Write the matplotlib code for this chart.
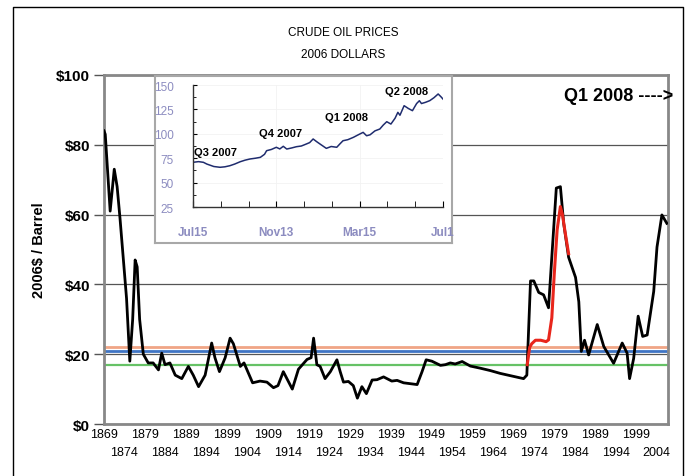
import numpy as np
import matplotlib
matplotlib.use("Agg")
import matplotlib.pyplot as plt
from matplotlib.lines import Line2D

plt.rcParams['font.family'] = ['Liberation Sans', 'DejaVu Sans']

# main series, 2006 dollars per barrel
years = [1869.0, 1869.3, 1870.5, 1871.5, 1872.2, 1872.9, 1874.5, 1875.3, 1876.0, 1876.6,
         1877.1, 1877.7, 1878.6, 1879.8, 1881.0, 1882.3, 1883.1, 1883.9, 1885.1, 1886.4,
         1888.0, 1889.6, 1890.8, 1892.1, 1893.7, 1895.3, 1896.1, 1897.2, 1898.6, 1899.8,
         1900.6, 1902.3, 1903.2, 1905.3, 1907.1, 1908.8, 1910.4, 1911.5, 1912.8, 1915.0,
         1916.5, 1918.6, 1919.6, 1920.2, 1921.0, 1921.8, 1923.0, 1924.3, 1925.9, 1926.7,
         1927.5, 1928.7, 1929.9, 1930.9, 1932.0, 1933.1, 1934.5, 1935.7, 1937.3, 1939.3,
         1940.6, 1942.2, 1945.5, 1946.7, 1947.7, 1949.1, 1951.2, 1952.4, 1953.6, 1954.8,
         1956.5, 1958.5, 1960.9, 1963.4, 1965.8, 1971.5, 1972.3, 1973.2, 1974.0, 1975.2,
         1976.4, 1977.6, 1978.4, 1979.5, 1980.5, 1981.3, 1982.5, 1984.2, 1985.0, 1985.6,
         1986.4, 1987.4, 1989.5, 1991.1, 1993.5, 1995.6, 1996.8, 1997.4, 1998.4, 1999.5,
         2000.6, 2001.7, 2003.3, 2004.1, 2005.3, 2006.5]
prices = [84, 83, 61, 73, 68, 59, 36, 18, 30, 47,
          45, 30, 20, 17.5, 17.5, 15.5, 20.3, 17, 17.5, 14,
          13, 16.5, 14, 10.7, 14, 23.2, 19, 15, 19, 24.6,
          23, 16.5, 17.5, 11.8, 12.3, 12, 10.4, 11, 15, 10,
          15.7, 18.5, 19, 24.6, 17, 16.5, 13, 15, 18.4, 15,
          12, 12.2, 11, 7.4, 10.7, 8.7, 12.6, 12.7, 13.5, 12.3,
          12.5, 11.8, 11.3, 15, 18.4, 18, 16.8, 17, 17.5, 17.2,
          17.9, 16.6, 16, 15.3, 14.5, 13, 14, 41, 41, 37.7,
          37, 33.3, 47.8, 67.6, 68, 57.5, 47.8, 42, 35, 20.8,
          24, 19.8, 28.5, 22.2, 17.4, 23.2, 20.3, 13, 18.8, 30.9,
          25.1, 25.5, 38, 50.7, 59.9, 57.5]

# red overlay series
red_years = [1972.4, 1973.0, 1973.5, 1974.4, 1975.7, 1977.0, 1977.6, 1978.4, 1979.0,
             1979.7, 1980.5, 1981.0, 1981.7, 1982.5]
red_prices = [17, 22, 23, 24, 24, 23.6, 24.1, 30.4, 43, 55.6, 62.3, 60, 54.6, 48.8]

# reference levels
ref_levels = [22.1, 21.0, 16.9]
ref_colors = ['#f0a585', '#3f74c4', '#66c266']

ytick_vals = [0, 20, 40, 60, 80, 100]
ytick_labels = ['$0', '$20', '$40', '$60', '$80', '$100']
row1_years = list(range(1869, 2000, 10))
row2_years = list(range(1874, 2005, 10))

# inset: days from Jul 15 2007 (approx) and $/barrel
inset_days = [0, 8, 15, 20, 24, 30, 39, 46, 53, 60, 68, 75, 82, 90, 97, 103, 106,
              113, 120, 125, 130, 135, 142, 149, 156, 163, 168, 173, 178, 183, 192,
              199, 207, 212, 216, 223, 231, 238, 245, 250, 255, 262, 269, 274, 279,
              285, 291, 295, 298, 304, 310, 316, 322, 326, 329, 335, 341, 347, 353, 357, 360]
inset_prices = [70.8, 71.5, 70.8, 69, 68, 66.5, 65.7, 66.2, 67.3, 69, 71.4, 73, 74.2, 75,
                75.9, 79, 82.7, 84, 86.2, 84.5, 87.2, 84.4, 85.5, 86.8, 87.5, 89.5, 91,
                94.7, 92, 89.5, 85.1, 87, 86.2, 90, 92.9, 94, 96.4, 99, 101.5, 98, 99,
                103, 104.9, 109, 112.4, 110, 116, 122, 119, 128.8, 126, 123.7, 131,
                133.9, 131, 132.3, 134, 137, 140.8, 138, 135.6]
inset_ticks = [0, 120, 240, 360]
inset_ticklabels = ['Jul15', 'Nov13', 'Mar15', 'Jul1']
inset_notes = [('Q3 2007', 2, 76), ('Q4 2007', 95, 96), ('Q1 2008', 190, 112), ('Q2 2008', 277, 139)]

fig = plt.figure(figsize=(6.88, 4.77), dpi=100)

ax = fig.add_axes([0.1512, 0.109, 0.8198, 0.7317])
for i, lvl in enumerate(ref_levels):
    ax.axhline(lvl, color=ref_colors[i], lw=2 if i < 2 else 1.6, zorder=2)
ax.plot(red_years, red_prices, color='#e8261c', lw=2.2, zorder=4)
ax.plot(years, prices, color='black', lw=2, zorder=3)

ax.set_ylim(0, 100)
ax.set_xlim(1869, 2006.8)
ax.set_yticks(ytick_vals)
ax.set_yticklabels(ytick_labels, fontsize=11, fontweight='bold')
# two staggered rows of year labels
ax.set_xticks(row1_years)
ax.set_xticklabels([str(y) for y in row1_years], fontsize=9)
ax.set_xticks(row2_years, minor=True)
ax.set_xticklabels([str(y) for y in row2_years], minor=True, fontsize=9)
ax.tick_params(axis='y', length=7, width=1, color='#555555', pad=3)
ax.tick_params(axis='x', which='major', length=0, pad=3)
ax.tick_params(axis='x', which='minor', length=0, pad=16)
ax.grid(axis='y', color='#555555', lw=0.9, zorder=1)
ax.set_axisbelow(True)
for sp in ax.spines.values():
    sp.set_color('#888888')
    sp.set_linewidth(2)

# outer frame (bottom edge is cropped off in the original)
fig.add_artist(Line2D([0.0189, 0.0189, 0.9927, 0.9927], [0.0, 0.983, 0.983, 0.0],
                      transform=fig.transFigure, color='black', lw=1))

fig.text(0.4985, 0.931, 'CRUDE OIL PRICES', ha='center', va='center', fontsize=8.5)
fig.text(0.4985, 0.885, '2006 DOLLARS', ha='center', va='center', fontsize=8.5)
fig.text(0.057, 0.476, '2006$ / Barrel', rotation=90, ha='center', va='center',
         fontsize=10.5, fontweight='bold')
fig.text(0.978, 0.797, 'Q1 2008 ---->', ha='right', va='center', fontsize=13, fontweight='bold')

# inset box
box = fig.add_axes([0.2253, 0.4885, 0.4317, 0.350], zorder=3)
box.set_xticks([])
box.set_yticks([])
box.set_facecolor('white')
for sp in box.spines.values():
    sp.set_color('#a8a8a8')
    sp.set_linewidth(1.5)

ins = fig.add_axes([0.2805, 0.5639, 0.3634, 0.2558], zorder=4)
ins.patch.set_alpha(0)
ins.plot(inset_days, inset_prices, color='#1f2c6e', lw=1.1)
ins.set_xlim(0, 360)
ins.set_ylim(25, 150)
ins.set_yticks([25, 50, 75, 100, 125, 150])
ins.set_yticks(np.arange(25, 150, 12.5), minor=True)
ins.set_xticks(inset_ticks)
ins.set_xticks(range(0, 361, 40), minor=True)
ins.set_xticklabels(inset_ticklabels, fontsize=8.5, color='#8c8cc0', fontweight='bold')
ins.tick_params(axis='y', labelsize=8.5, labelcolor='#8c8cc0', direction='in', length=3, pad=14)
ins.tick_params(axis='y', which='minor', direction='in', length=2)
ins.tick_params(axis='x', which='both', direction='in', length=4, pad=14)
ins.grid(color='#f2f2f2', lw=0.6)
for sp in ['top', 'right']:
    ins.spines[sp].set_visible(False)
for sp in ['left', 'bottom']:
    ins.spines[sp].set_color('#333333')
    ins.spines[sp].set_linewidth(1)
for lbl, dx, dy in inset_notes:
    ins.text(dx, dy, lbl, fontsize=8, fontweight='bold', ha='left', va='bottom')

fig.savefig('out.png', dpi=100)
